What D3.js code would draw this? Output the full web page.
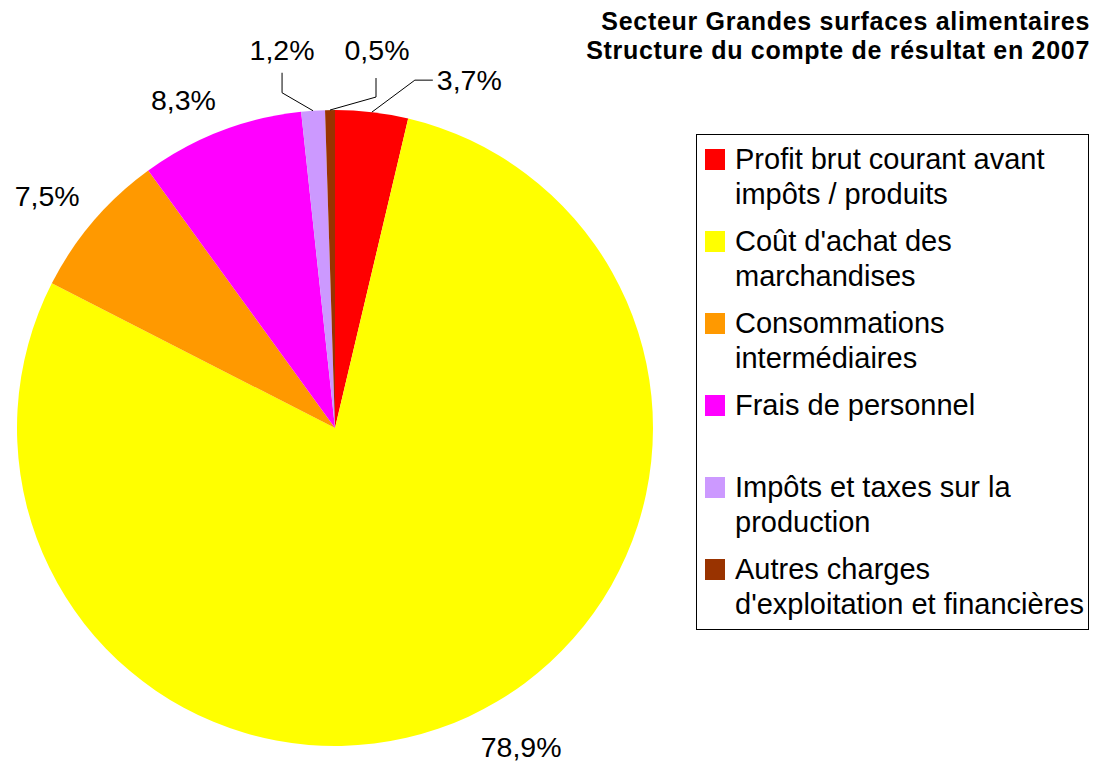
<!DOCTYPE html>
<html>
<head>
<meta charset="utf-8">
<script src="https://cdn.jsdelivr.net/npm/d3@7"></script>
<style>
  body { margin: 0; background: #fff; }
  text { font-family: "Liberation Sans", Arial, sans-serif; fill: #000; }
</style>
</head>
<body>
<div class="chart-container"></div>
<script>
// data
var categories = [
  'Profit brut courant avant impôts / produits',
  "Coût d'achat des marchandises",
  'Consommations intermédiaires',
  'Frais de personnel',
  'Impôts et taxes sur la production',
  "Autres charges d'exploitation et financières"
];
var legendLines = [
  ['Profit brut courant avant', 'impôts / produits'],
  ["Coût d'achat des", 'marchandises'],
  ['Consommations', 'intermédiaires'],
  ['Frais de personnel', ''],
  ['Impôts et taxes sur la', 'production'],
  ['Autres charges', "d'exploitation et financières"]
];
var values = [3.7, 78.9, 7.5, 8.3, 1.2, 0.5];
var colors = ['#ff0000', '#ffff00', '#ff9900', '#ff00ff', '#cc99ff', '#993300'];
var titleLines = ['Secteur Grandes surfaces alimentaires', 'Structure du compte de résultat en 2007'];

// leader lines for the thin slices (pixel offsets from the slice edge)
var leaders = {
  0: { elbow: [43, -32], end: [61, -32], text: [4, 10], anchor: 'start' },
  4: { elbow: [-31, -18], end: [-31, -38], text: [0, -13], anchor: 'middle' },
  5: { elbow: [46, -13], end: [46, -32], text: [1, -18], anchor: 'middle' }
};

var width = 1099, height = 766;
var cx = 335, cy = 428, radius = 318;

var fr = d3.formatLocale({ decimal: ',', thousands: ' ', grouping: [3], currency: ['', ' €'] });
var fmt = function (v) { return fr.format('.1f')(v) + '%'; };

var svg = d3.select('.chart-container').append('svg')
    .attr('width', width)
    .attr('height', height);

svg.append('rect').attr('width', width).attr('height', height).attr('fill', '#fff');

var data = values.map(function (v, i) { return { value: v, i: i }; });
var pie = d3.pie().sort(null).value(function (d) { return d.value; });
var arcs = pie(data);
var arc = d3.arc().innerRadius(0).outerRadius(radius);

var g = svg.append('g').attr('transform', 'translate(' + cx + ',' + cy + ')');

g.selectAll('.slice')
  .data(arcs)
  .enter().append('path')
    .attr('class', 'slice')
    .attr('d', arc)
    .attr('fill', function (d) { return colors[d.data.i]; });

// labels
arcs.forEach(function (d) {
  var a = (d.startAngle + d.endAngle) / 2;
  var i = d.data.i;
  var lab = leaders[i];
  if (lab) {
    var p = [Math.sin(a) * radius, -Math.cos(a) * radius];
    var e = [p[0] + lab.elbow[0], p[1] + lab.elbow[1]];
    var f = [p[0] + lab.end[0], p[1] + lab.end[1]];
    g.append('path')
      .attr('d', d3.line()([p, e, f]))
      .attr('fill', 'none')
      .attr('stroke', '#000')
      .attr('stroke-width', 1);
    g.append('text')
      .attr('x', f[0] + lab.text[0])
      .attr('y', f[1] + lab.text[1])
      .attr('text-anchor', lab.anchor)
      .attr('font-size', 28.5)
      .text(fmt(d.data.value));
  } else {
    var r2 = radius + 22;
    var px = Math.sin(a) * r2 + 3, py = -Math.cos(a) * r2;
    g.append('text')
      .attr('x', px)
      .attr('y', Math.cos(a) > 0 ? py - 1 : py + 20)
      .attr('text-anchor', Math.sin(a) > 0 ? 'start' : 'end')
      .attr('font-size', 28.5)
      .text(fmt(d.data.value));
  }
});

// title
svg.selectAll('.title')
  .data(titleLines)
  .enter().append('text')
    .attr('class', 'title')
    .attr('x', 1090)
    .attr('y', function (d, i) { return 30 + i * 29; })
    .attr('text-anchor', 'end')
    .attr('font-size', 25)
    .attr('font-weight', 'bold')
    .attr('letter-spacing', 0.7)
    .text(function (d) { return d; });

// legend
var legend = svg.append('g').attr('transform', 'translate(696,134)');
legend.append('rect')
  .attr('x', 0.5).attr('y', 0.5)
  .attr('width', 392).attr('height', 495)
  .attr('fill', '#fff')
  .attr('stroke', '#000')
  .attr('stroke-width', 1);

var item = legend.selectAll('.item')
  .data(categories)
  .enter().append('g')
    .attr('class', 'item')
    .attr('transform', function (d, i) { return 'translate(0,' + (15 + i * 82) + ')'; });

item.append('rect')
  .attr('x', 9).attr('width', 20).attr('height', 21)
  .attr('fill', function (d, i) { return colors[i]; });

item.each(function (d, i) {
  var t = d3.select(this);
  legendLines[i].forEach(function (line, k) {
    t.append('text')
      .attr('x', 39)
      .attr('y', 20 + k * 35)
      .attr('font-size', 29)
      .text(line);
  });
});
</script>
</body>
</html>
